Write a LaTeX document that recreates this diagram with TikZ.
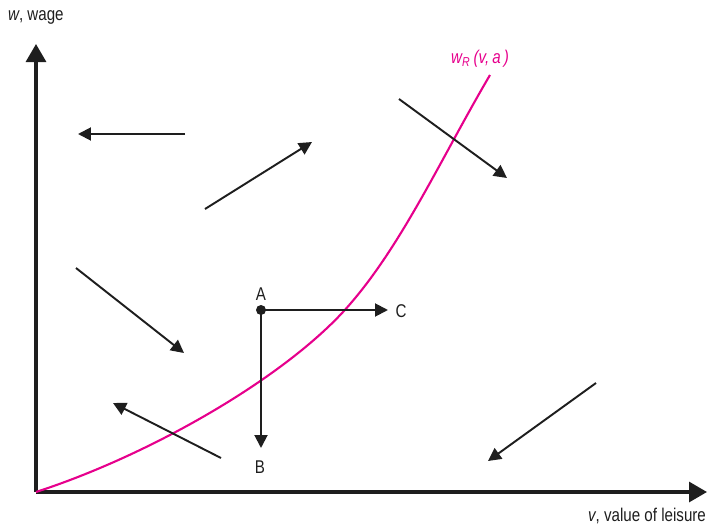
\documentclass[tikz,border=0pt]{standalone}
\usepackage{fontspec}
\setmainfont[FakeStretch=0.82]{Liberation Sans}
\usepackage{tikz}
\usetikzlibrary{arrows.meta}
\definecolor{wagepink}{RGB}{230,0,140}
\definecolor{ink}{RGB}{30,30,30}

\begin{document}
\begin{tikzpicture}[x=0.02cm,y=-0.02cm,
    axis/.style={ink,line width=1.8pt,-{Triangle[length=0.36cm,width=0.4cm]}},
    flow/.style={ink,line width=1.1pt,-{Triangle[length=0.26cm,width=0.26cm]}},
    lbl/.style={font=\fontsize{10.5}{12}\selectfont,text=ink,inner sep=1pt}]
      \useasboundingbox (0,0) rectangle (708,528);
      % axes
      \coordinate (O) at (36,492);
      \coordinate (ytop) at (36,44);
      \coordinate (xend) at (707,492);
      \draw [axis] (O) -- (ytop);
      \draw [axis] (O) -- (xend);
      \node [lbl,anchor=west] (wlab) at (6,17) {\textit{w}, wage};
      \node [lbl,anchor=east] (vlab) at (708,516) {\textit{v}, value of leisure};
      % reservation wage curve
      \coordinate (wmid) at (343,312);
      \coordinate (wtop) at (490,75);
      \draw [wagepink,line width=1.2pt] (O) .. controls (150,455) and (280,380) .. (wmid)
        .. controls (400,250) and (440,160) .. (wtop);
      \node [lbl,text=wagepink] (wR) at (480,59) {\textit{w\textsubscript{R}\,(v,\,a\,)}};
      % direction arrows
      \foreach \n/\sx/\sy/\ex/\ey in {1/185/134/78/134, 2/205/209/312/142, 3/399/99/507/178,
          4/76/268/184/353, 5/221/458/113/403, 6/596/383/488/461}{
        \coordinate (s\n) at (\sx,\sy);
        \coordinate (e\n) at (\ex,\ey);
        \draw [flow] (s\n) -- (e\n);
      }
      % point A and its moves
      \node [circle,fill=ink,inner sep=0pt,minimum size=0.2cm] (A) at (261,310) {};
      \coordinate (Cend) at (388,310);
      \coordinate (Bend) at (261,448);
      \draw [flow] (A.center) -- (Cend);
      \draw [flow] (A.center) -- (Bend);
      \node [lbl] (Alab) at (261,294) {A};
      \node [lbl] (Clab) at (401,311) {C};
      \node [lbl] (Blab) at (260,467) {B};
    \end{tikzpicture}
\end{document}
